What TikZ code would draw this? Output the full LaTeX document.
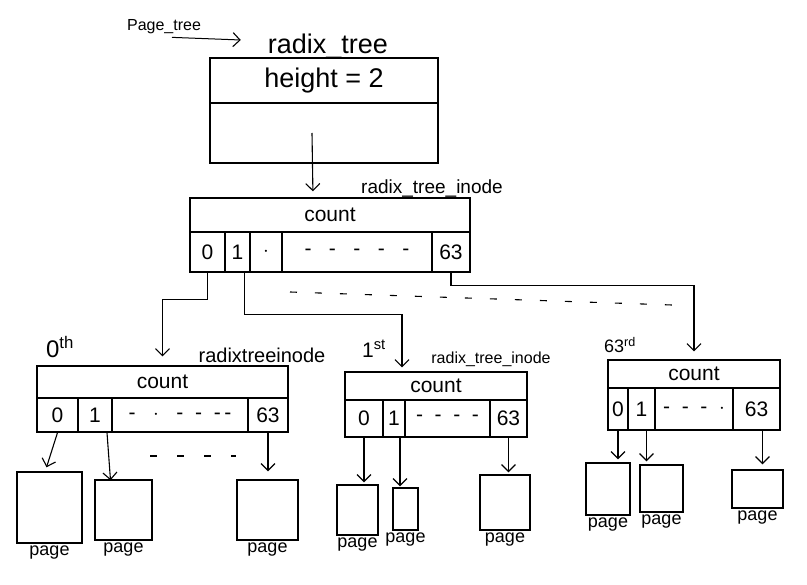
\documentclass[tikz,border=0pt]{standalone}
\usepackage{fontspec}
\setmainfont{Liberation Sans}
\usetikzlibrary{arrows.meta}
\begin{document}
\begin{tikzpicture}[x=1pt,y=-1pt,
  cell/.style={draw,line width=1.3pt,inner sep=0pt,font=\fontsize{21}{23}\selectfont},
  pagebox/.style={draw,line width=1.4pt,inner sep=0pt},
  lbl/.style={inner sep=1pt,font=\fontsize{18}{20}\selectfont},
  link/.style={line width=1.1pt,-{Straight Barb[length=7pt,width=14pt,line width=1.1pt]}},
  gap/.style={line width=1.1pt,dash pattern=on 7pt off 18pt}]
\fill[white] (0,0) rectangle (807,585);
\useasboundingbox (0,0) rectangle (807,585);

% ---- radix_tree root ----
\node[lbl,font=\fontsize{16}{18}\selectfont] (pt) at (164,27) {Page\_tree};
\node[lbl,font=\fontsize{27}{29}\selectfont] (rtl) at (328,46) {radix\_tree};
\draw[link,line width=1pt] ([xshift=8pt,yshift=-2pt]pt.south) -- ([xshift=-26pt,yshift=6pt]rtl.west);
\node[cell,font=\fontsize{27}{29}\selectfont,minimum width=228pt,minimum height=45pt] (rth) at (324,80.5) {height = 2};
\node[cell,minimum width=228pt,minimum height=60pt] (rtb) at (324,133) {};

% ---- first-level inode ----
\node[lbl,font=\fontsize{19}{21}\selectfont] (ml) at (432,189) {radix\_tree\_inode};
\node[cell,minimum width=280pt,minimum height=34pt] (mh) at (330,215) {count};
\node[cell,minimum width=35pt,minimum height=40pt] (mc0) at (207.5,252) {0};
\node[cell,minimum width=25pt,minimum height=40pt] (mc1) at (237.5,252) {1};
\node[cell,minimum width=32pt,minimum height=40pt] (mc2) at (266,252) {$\cdot$};
\node[cell,minimum width=150pt,minimum height=40pt] (mc3) at (357,252) {-\ \ \ -\ \ \ -\ \ \ -\ \ \ -};
\node[cell,minimum width=38pt,minimum height=40pt] (mc4) at (451,252) {63};
\draw[link,shorten >=6pt] ([xshift=-12pt]rtb.center) -- ([xshift=-17pt]mh.north);

% ---- second-level inodes ----
% 0th
\node[lbl] (lt) at (60,347) {\fontsize{24}{26}\selectfont 0\textsuperscript{th}};
\node[lbl,font=\fontsize{20}{22}\selectfont] (ll) at (262,355) {radixtreeinode};
\node[cell,minimum width=251pt,minimum height=32pt] (lh) at (162.5,382) {count};
\node[cell,minimum width=41pt,minimum height=34pt] (l0) at (57.5,415) {0};
\node[cell,minimum width=34pt,minimum height=34pt] (l1) at (95,415) {1};
\node[cell,minimum width=136pt,minimum height=34pt] (l2) at (180,415) {-\ \ \ $\cdot$\ \ \ -\ \ -\ \ -\,-};
\node[cell,minimum width=40pt,minimum height=34pt] (l3) at (268,415) {63};
% 1st
\node[lbl] (nt) at (374,349) {\fontsize{21}{23}\selectfont 1\textsuperscript{st}};
\node[lbl,font=\fontsize{16}{18}\selectfont] (nl) at (491,359) {radix\_tree\_inode};
\node[cell,minimum width=182pt,minimum height=28pt] (nh) at (436,386) {count};
\node[cell,minimum width=38pt,minimum height=37pt] (n0) at (364,418.5) {0};
\node[cell,minimum width=22pt,minimum height=37pt] (n1) at (394,418.5) {1};
\node[cell,minimum width=85pt,minimum height=37pt] (n2) at (447.5,418.5) {-\ \ -\ \ -\ \ -};
\node[cell,minimum width=37pt,minimum height=37pt] (n3) at (508.5,418.5) {63};
% 63rd
\node[lbl] (rt) at (620,345) {\fontsize{18}{20}\selectfont 63\textsuperscript{rd}};
\node[cell,minimum width=172pt,minimum height=28pt] (rh) at (694,374) {count};
\node[cell,minimum width=20pt,minimum height=42pt] (r0) at (618,409) {0};
\node[cell,minimum width=27pt,minimum height=42pt] (r1) at (641.5,409) {1};
\node[cell,minimum width=78pt,minimum height=42pt] (r2) at (694,409) {-\ \ -\ \ -\ \ $\cdot$};
\node[cell,minimum width=47pt,minimum height=42pt] (r3) at (756.5,409) {63};

% slot pointers of the first-level inode
\draw[link,shorten >=9pt] (mc0.south) -- ++(0,27) -| (lh.north);
\draw[link,shorten >=4pt] ([xshift=7pt]mc1.south) -- ++(0,42) -| ([xshift=-34pt]nh.north);
\draw[link,shorten >=8pt] (mc4.south) -- ++(0,13) -| (rh.north);
\coordinate (ga) at (290,292);
\coordinate (gb) at (672,305);
\draw[gap] (ga) -- (gb);

% ---- pages ----
\node[pagebox,minimum width=65pt,minimum height=71pt] (p1) at (49.5,507.5) {};
\node[pagebox,minimum width=57pt,minimum height=60pt] (p2) at (123.5,510) {};
\node[pagebox,minimum width=61pt,minimum height=60pt] (p3) at (267.5,510) {};
\node[pagebox,minimum width=41pt,minimum height=50pt] (q1) at (357.5,510) {};
\node[pagebox,minimum width=25pt,minimum height=42pt] (q2) at (405.5,509) {};
\node[pagebox,minimum width=50pt,minimum height=55pt] (q3) at (505,502.5) {};
\node[pagebox,minimum width=44pt,minimum height=52pt] (s1) at (608,489) {};
\node[pagebox,minimum width=43pt,minimum height=47pt] (s2) at (661.5,488.5) {};
\node[pagebox,minimum width=51pt,minimum height=38pt] (s3) at (757.5,489) {};

\foreach \p in {p1,p2,p3,q1,q2,q3,s1,s2,s3}
  \node[lbl,anchor=north] (\p l) at ([yshift=-1pt]\p.south) {page};

% slot pointers of the second-level inodes
\draw[link] (l0.south) -- ([xshift=-3pt,yshift=4pt]p1.north);
\draw[link] ([xshift=12pt]l1.south) -- ([xshift=-13pt,yshift=-1pt]p2.north);
\draw[link,shorten >=8pt] (l3.south) -- (l3.south |- p3.north);
\coordinate (gc) at (150,456);
\coordinate (gd) at (236,456);
\draw[gap,dash pattern=on 7pt off 20pt] (gc) -- (gd);

\draw[link,shorten >=2pt] (n0.south) -- (n0.south |- q1.north);
\draw[link,shorten >=1pt] ([xshift=6pt]n1.south) -- ([xshift=6pt]n1.south |- q2.north);
\draw[link,shorten >=2pt] (n3.south) -- (n3.south |- q3.north);

\draw[link,shorten >=3pt] (r0.south) -- (r0.south |- s1.north);
\draw[link,shorten >=3pt] ([xshift=5pt]r1.south) -- ([xshift=5pt]r1.south |- s2.north);
\draw[link,shorten >=5pt] ([xshift=6pt]r3.south) -- ([xshift=6pt]r3.south |- s3.north);
\end{tikzpicture}
\end{document}
